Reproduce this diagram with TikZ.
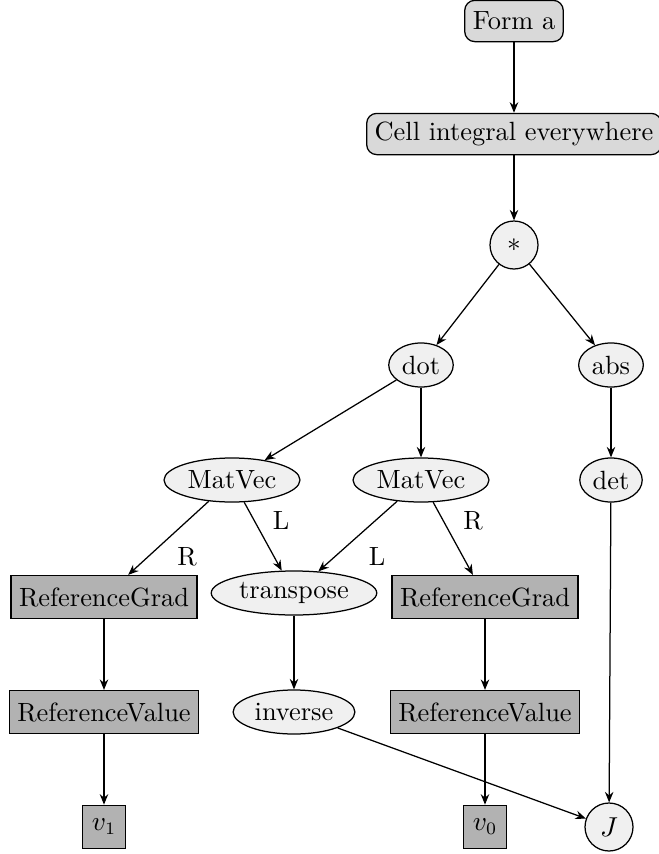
\documentclass[tikz,border=0pt]{standalone}
\usepackage{amsmath,amssymb}
\usepackage{tikz}
\usetikzlibrary{shapes,arrows,arrows.meta,positioning,calc}
\usepackage{xcolor}
\definecolor{formgray}{gray}{0.85}
\definecolor{opgray}{gray}{0.94}
\definecolor{termgray}{gray}{0.7}

\begin{document}
\begin{tikzpicture}[x=0.4pt, y=-0.4pt, >={Stealth[length=4.2pt, width=3.4pt, inset=1.4pt]},
    font=\fontsize{10.55}{12.7}\selectfont, line width=0.5pt,
    formbox/.style={draw, rounded corners=4pt, fill=formgray, inner xsep=3.2pt, minimum height=16.5pt},
    opnode/.style={draw, ellipse, fill=opgray, inner sep=1.5pt, minimum height=17.6pt},
    circnode/.style={draw, circle, fill=opgray, minimum size=19.2pt, inner sep=0pt},
    termbox/.style={draw, rectangle, fill=termgray, inner xsep=3.2pt, minimum height=17.2pt},
    leafbox/.style={draw, rectangle, fill=termgray, minimum size=17.4pt, inner sep=0pt}]
    \useasboundingbox (0,0) rectangle (659,854);

    % Form and integral
    \node[formbox] (form) at (514,21) {Form a};
    \node[formbox] (cell) at (514,134) {Cell integral everywhere};

    % Operators
    \node[circnode] (prod) at (514,245) {$*$};
    \node[opnode] (dotp) at (421,365) {dot};
    \node[opnode] (absv) at (611,365) {abs};
    \node[opnode] (mvl) at (232,480) {MatVec};
    \node[opnode] (mvr) at (421,480) {MatVec};
    \node[opnode] (detj) at (611,480) {det};
    \node[opnode] (trans) at (294,593) {transpose};
    \node[opnode] (inv) at (294,712) {inverse};

    % Terminals
    \node[termbox] (rgl) at (104,597) {ReferenceGrad};
    \node[termbox] (rgr) at (485,597) {ReferenceGrad};
    \node[termbox] (rvl) at (104,712) {ReferenceValue};
    \node[termbox] (rvr) at (485,712) {ReferenceValue};
    \node[leafbox] (vone) at (104,827) {$v_1$};
    \node[leafbox] (vzero) at (485,827) {$v_0$};
    \node[circnode] (jac) at (609,827) {$J$};

    % Edges
    \draw[->] (form) -- (cell);
    \draw[->] (cell) -- (prod);
    \draw[->] (prod) -- (dotp);
    \draw[->] (prod) -- (absv);
    \draw[->] (dotp) -- (mvl);
    \draw[->] (dotp) -- (mvr);
    \draw[->] (absv) -- (detj);
    \draw[->] (mvl) -- (rgl) node[pos=0.75, right=8pt] {R};
    \draw[->] (mvl) -- (trans) node[pos=0.26, right=4pt] {L};
    \draw[->] (mvr) -- (trans) node[pos=0.79, right=10pt] {L};
    \draw[->] (mvr) -- (rgr) node[pos=0.25, right=4.5pt] {R};
    \draw[->] (rgl) -- (rvl);
    \draw[->] (trans) -- (inv);
    \draw[->] (rgr) -- (rvr);
    \draw[->] (rvl) -- (vone);
    \draw[->] (rvr) -- (vzero);
    \draw[->] (inv) -- (jac);
    \draw[->] (detj) -- (jac);
\end{tikzpicture}
\end{document}
